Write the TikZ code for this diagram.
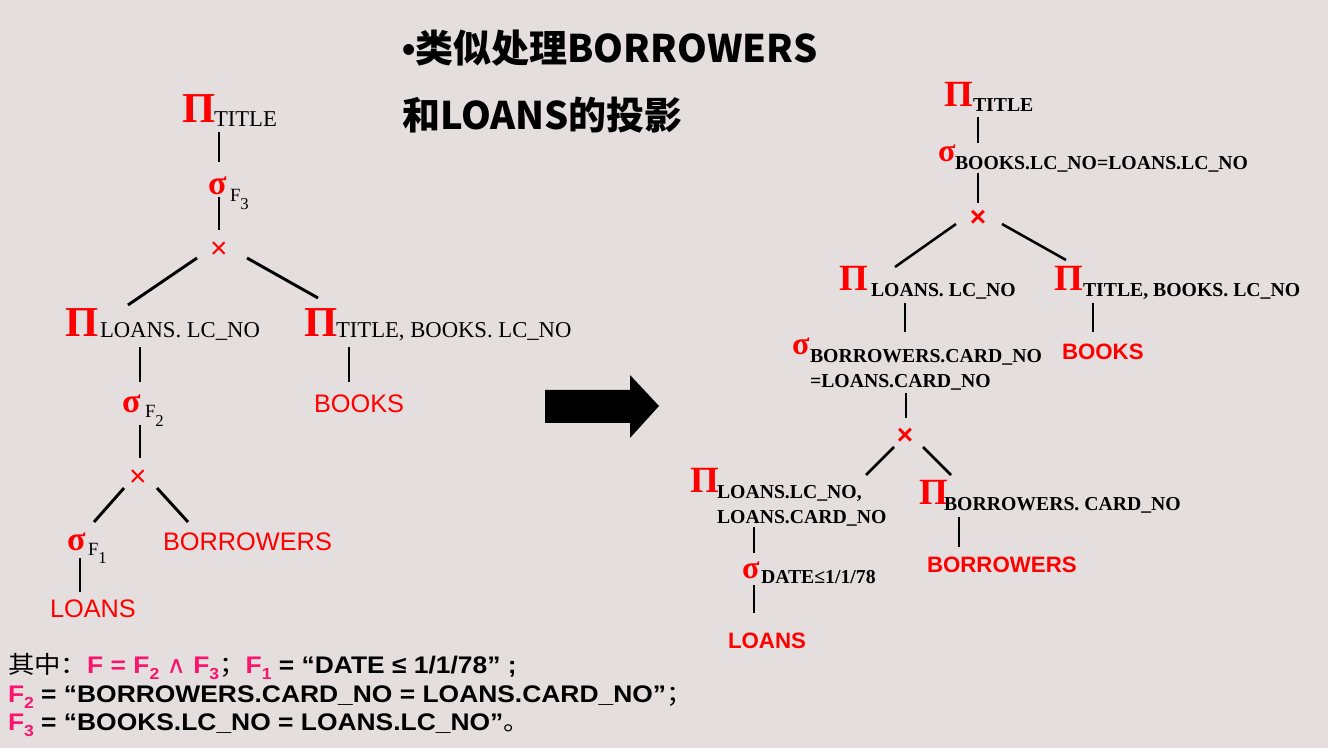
\documentclass[tikz,border=0pt]{standalone}
\usepackage{fontspec}
\usepackage{graphicx}
\usetikzlibrary{calc}
\newfontfamily\tms{Liberation Serif}
\newfontfamily\ari{Liberation Sans}
\newfontfamily\cjk{Noto Sans CJK SC}
\newfontfamily\djv{DejaVu Sans}
\definecolor{bgc}{RGB}{229,222,222}
\definecolor{redA}{RGB}{255,0,0}
\definecolor{pinkF}{RGB}{250,20,110}
\newcommand\fs[1]{\fontsize{#1}{#1}\selectfont}
\newcommand\dgt[1]{\raisebox{-5pt}{\fs{12}#1}}
\newcommand\ldg[1]{\raisebox{-6pt}{\fs{12.5}#1}}
\tikzset{
  every node/.style={inner sep=0pt, outer sep=0pt, anchor=base west},
  lgreek/.style={font=\tms\bfseries\fs{32}, text=redA},
  lsig/.style={font=\tms\bfseries\fs{25.5}, text=redA},
  lsub/.style={font=\tms\fs{17}},
  lfsub/.style={font=\tms\fs{14}},
  lcross/.style={font=\ari\fs{22.5}, text=redA, anchor=center},
  lrel/.style={font=\ari\fs{19}, text=redA},
  rgreek/.style={font=\tms\bfseries\fs{27.75}, text=redA},
  rsig/.style={font=\tms\bfseries\fs{24}, text=redA},
  rsub/.style={font=\tms\bfseries\fs{14.8}},
  rcross/.style={font=\ari\bfseries\fs{21}, text=redA, anchor=center},
  rrel/.style={font=\ari\bfseries\fs{16.7}, text=redA},
  lline/.style={line width=2.2pt, black},
  rline/.style={line width=1.9pt, black},
  titletext/.style={font=\cjk\bfseries\fs{28.5}},
  foot/.style={font=\ari\bfseries\fs{18}}
}
\begin{document}
\begin{tikzpicture}[x=0.75pt,y=-0.75pt]
\useasboundingbox (0,0) rectangle (1328,748);
\fill[bgc] (0,0) rectangle (1328,748);

% title
\node[titletext] (t1) at (402,63) {{\ari\bfseries •}类似处理BORROWERS};
\node[titletext] (t2) at (402,130) {和LOANS的投影};

% ---------- left tree ----------
\node[lgreek] (lP1) at (182,123) {Π};
\node[lsub] (lP1t) at (214,127) {TITLE};
\node[lsig] (lS3) at (208,195) {σ};
\node[lfsub] (lS3t) at (230,202) {F\ldg{3}};
\node[lcross] (lX1) at (219,250) {×};
\node[lgreek] (lP2) at (65,337) {Π};
\node[lsub] (lP2t) at (100,338) {LOANS. LC\_NO};
\node[lgreek] (lP3) at (304,337) {Π};
\node[lsub] (lP3t) at (336,338) {TITLE, BOOKS. LC\_NO};
\node[lsig] (lS2) at (122,413) {σ};
\node[lfsub] (lS2t) at (145,418) {F\ldg{2}};
\node[lrel] (lBK) at (314,412) {BOOKS};
\node[lcross] (lX2) at (138,478) {×};
\node[lsig] (lS1) at (67,550) {σ};
\node[lfsub] (lS1t) at (88,555) {F\ldg{1}};
\node[lrel] (lBR) at (163,550) {BORROWERS};
\node[lrel] (lLN) at (50,617) {LOANS};

\draw[lline] ($(lP1.base west)+(37,9)$) -- ($(lS3.base west)+(11,-33)$);
\draw[lline] ($(lS3.base west)+(11,2)$) -- ($(lX1)+(0,-20)$);
\draw[lline] ($(lX1)+(-22,8)$) -- ($(lP2t.base west)+(28,-33)$);
\draw[lline] ($(lX1)+(28,8)$) -- ($(lP3.base west)+(14,-39)$);
\draw[lline] ($(lP2t.base west)+(40,9)$) -- ($(lS2.base west)+(18,-31)$);
\draw[lline] ($(lP3t.base west)+(13,9)$) -- ($(lBK.base west)+(35,-30)$);
\draw[lline] ($(lS2.base west)+(18,12)$) -- ($(lX2)+(2,-20)$);
\draw[lline] ($(lX2)+(-14,10)$) -- ($(lS1.base west)+(27,-28)$);
\draw[lline] ($(lX2)+(19,10)$) -- ($(lBR.base west)+(25,-28)$);
\draw[lline] ($(lS1.base west)+(13,8)$) -- ($(lLN.base west)+(30,-25)$);

% ---------- arrow ----------
\fill[black] (545,390) -- (630,390) -- (630,375) -- (659,406) -- (630,438) -- (630,423) -- (545,423) -- cycle;

% ---------- right tree ----------
\node[rgreek] (rP1) at (944,107) {Π};
\node[rsub] (rP1t) at (973,112) {TITLE};
\node[rsig] (rS1) at (938,162) {σ};
\node[rsub] (rS1t) at (955,170) {BOOKS.LC\_NO=LOANS.LC\_NO};
\node[rcross] (rX1) at (978,218) {×};
\node[rgreek] (rP2) at (839,291) {Π};
\node[rsub] (rP2t) at (871,297) {LOANS. LC\_NO};
\node[rgreek] (rP3) at (1054,291) {Π};
\node[rsub] (rP3t) at (1083,297) {TITLE, BOOKS. LC\_NO};
\node[rsig] (rS2) at (792,355) {σ};
\node[rsub] (rS2t) at (810,363) {BORROWERS.CARD\_NO};
\node[rsub] (rS2u) at (810,388) {=LOANS.CARD\_NO};
\node[rrel] (rBK) at (1062,360) {BOOKS};
\node[rcross] (rX2) at (905,436) {×};
\node[rgreek] (rP4) at (690,492) {Π};
\node[rsub] (rP4t) at (717,498) {LOANS.LC\_NO,};
\node[rsub] (rP4u) at (717,523) {LOANS.CARD\_NO};
\node[rgreek] (rP5) at (919,504) {Π};
\node[rsub] (rP5t) at (944,510) {BORROWERS. CARD\_NO};
\node[rsig] (rS3) at (742,578) {σ};
\node[rsub] (rS3t) at (761,583) {DATE≤1/1/78};
\node[rrel] (rLN) at (728,648) {LOANS};
\node[rrel] (rBR) at (927,572) {BORROWERS};

\draw[rline] ($(rP1.base west)+(34,10)$) -- ($(rS1.base west)+(40,-19)$);
\draw[rline] ($(rS1t.base west)+(23,3)$) -- ($(rX1)+(0,-15)$);
\draw[rline] ($(rX1)+(-22,6)$) -- ($(rP2t.base west)+(24,-30)$);
\draw[rline] ($(rX1)+(24,6)$) -- ($(rP3.base west)+(12,-31)$);
\draw[rline] ($(rP2t.base west)+(34,6)$) -- ($(rS2t.base west)+(95,-31)$);
\draw[rline] ($(rP3t.base west)+(10,6)$) -- ($(rBK.base west)+(31,-28)$);
\draw[rline] ($(rS2u.base west)+(96,5)$) -- ($(rX2)+(1,-18)$);
\draw[rline] ($(rX2)+(-11,11)$) -- ($(rP4t.base west)+(149,-23)$);
\draw[rline] ($(rX2)+(18,11)$) -- ($(rP5.base west)+(32,-29)$);
\draw[rline] ($(rP4u.base west)+(37,4)$) -- ($(rS3.base west)+(12,-25)$);
\draw[rline] ($(rP5t.base west)+(15,7)$) -- ($(rBR.base west)+(32,-25)$);
\draw[rline] ($(rS3.base west)+(12,7)$) -- ($(rLN.base west)+(26,-35)$);

% ---------- footnote ----------
\node[foot] (f1) at (8,673) {\scalebox{1.1}[1]{{\cjk\mdseries 其中：}\textcolor{pinkF}{F = F\dgt{2} {\djv\mdseries ∧} F\dgt{3}}{\cjk\mdseries ；}\textcolor{pinkF}{F\dgt{1}} = “DATE ≤ 1/1/78” ;}};
\node[foot] (f2) at (8,702) {\scalebox{1.1}[1]{\textcolor{pinkF}{F\dgt{2}} = “BORROWERS.CARD\_NO = LOANS.CARD\_NO”{\cjk\mdseries ；}}};
\node[foot] (f3) at (8,730) {\scalebox{1.1}[1]{\textcolor{pinkF}{F\dgt{3}} = “BOOKS.LC\_NO = LOANS.LC\_NO”{\cjk\mdseries 。}}};
\end{tikzpicture}
\end{document}
